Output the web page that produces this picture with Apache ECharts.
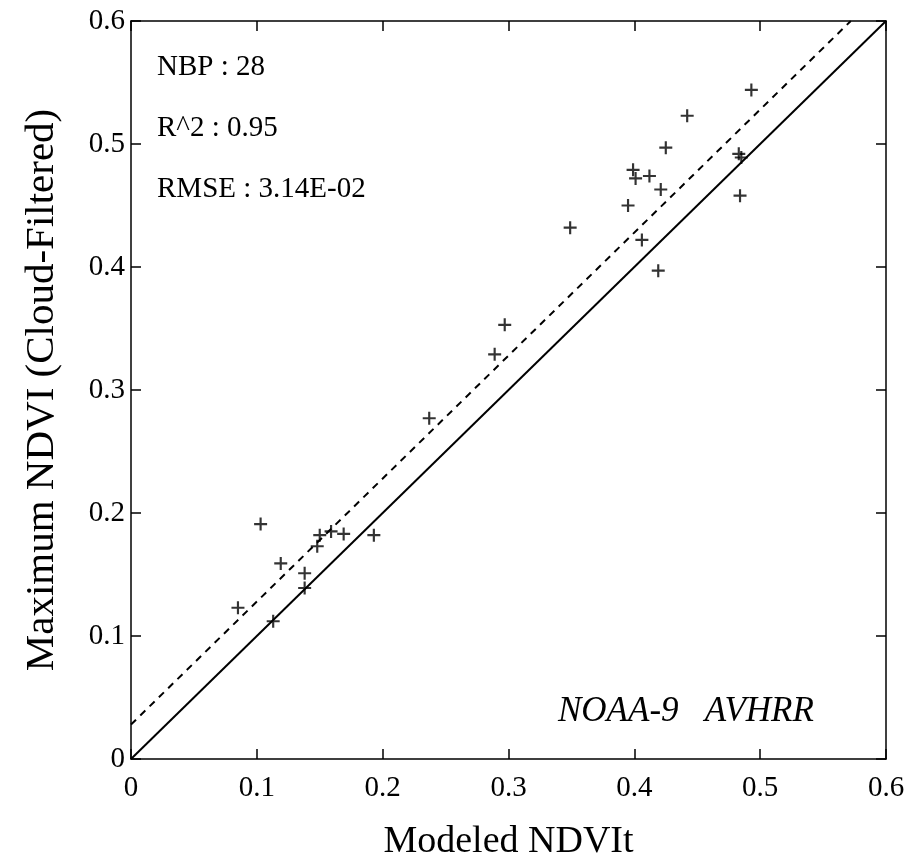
<!DOCTYPE html>
<html>
<head>
<meta charset="utf-8">
<script src="https://cdn.jsdelivr.net/npm/echarts@6/dist/echarts.min.js"></script>
<style>
  html, body { margin: 0; padding: 0; background: #fff; }
  #chart { width: 911px; height: 859px; }
</style>
</head>
<body>
<div id="chart"></div>
<script>
// modeled NDVIt (x) vs maximum cloud-filtered NDVI (y)
const modeled = [
  0.493, 0.442, 0.425, 0.399, 0.401, 0.412, 0.421, 0.395, 0.483, 0.485,
  0.484, 0.406, 0.419, 0.349, 0.297, 0.289, 0.237, 0.103, 0.150, 0.159,
  0.169, 0.193, 0.148, 0.119, 0.138, 0.138, 0.085, 0.113
];
const maxNdvi = [
  0.544, 0.523, 0.497, 0.479, 0.472, 0.474, 0.463, 0.450, 0.492, 0.489,
  0.458, 0.422, 0.397, 0.432, 0.353, 0.329, 0.277, 0.191, 0.182, 0.185,
  0.183, 0.182, 0.173, 0.159, 0.151, 0.139, 0.123, 0.112
];
const tickLabels = ['0', '0.1', '0.2', '0.3', '0.4', '0.5', '0.6'];
const fitIntercept = 0.028;
const fitSlope = 1.0;
const axisMax = 0.6;

const points = modeled.map((x, i) => [x, maxNdvi[i]]);
const fitLine = [[0, fitIntercept], [(axisMax - fitIntercept) / fitSlope, axisMax]];
const oneToOne = [[0, 0], [axisMax, axisMax]];

const chart = echarts.init(document.getElementById('chart'));
const font = 'Liberation Serif';

const baseAxis = {
  type: 'value',
  min: 0,
  max: axisMax,
  interval: 0.1,
  splitLine: { show: false },
  axisLine: { onZero: false, lineStyle: { color: '#000', width: 1.5 } },
  axisTick: { inside: true, length: 10, lineStyle: { color: '#000', width: 1.5 } }
};

const option = {
  animation: false,
  grid: { left: 131, right: 25, top: 21, bottom: 100, outerBoundsMode: 'none', containLabel: false },
  xAxis: [
    Object.assign({}, baseAxis, {
      position: 'bottom',
      name: 'Modeled NDVIt',
      nameLocation: 'middle',
      nameGap: 64,
      nameTextStyle: { fontFamily: font, fontSize: 38, color: '#000' },
      axisLabel: {
        margin: 15, fontFamily: font, fontSize: 29, color: '#000',
        formatter: v => tickLabels[Math.round(v * 10)]
      }
    }),
    Object.assign({}, baseAxis, { position: 'top', axisLabel: { show: false } })
  ],
  yAxis: [
    Object.assign({}, baseAxis, {
      position: 'left',
      name: 'Maximum NDVI (Cloud-Filtered)',
      nameLocation: 'middle',
      nameGap: 68,
      nameRotate: 90,
      nameTextStyle: { fontFamily: font, fontSize: 41, color: '#000' },
      axisLabel: {
        margin: 6, fontFamily: font, fontSize: 29, color: '#000',
        formatter: v => tickLabels[Math.round(v * 10)]
      }
    }),
    Object.assign({}, baseAxis, { position: 'right', axisLabel: { show: false } })
  ],
  series: [
    {
      type: 'line',
      data: oneToOne,
      symbol: 'none',
      lineStyle: { color: '#000', width: 2 },
      silent: true
    },
    {
      type: 'line',
      data: fitLine,
      symbol: 'none',
      lineStyle: { color: '#000', width: 2, type: [7, 6] },
      silent: true
    },
    {
      type: 'scatter',
      data: points,
      symbol: 'path://M5,0H7V5H12V7H7V12H5V7H0V5H5Z',
      symbolSize: 13,
      itemStyle: { color: '#000' }
    }
  ],
  graphic: [
    { type: 'text', left: 157, top: 53, style: { text: 'NBP : 28', font: '29px "Liberation Serif"', fill: '#000' } },
    { type: 'text', left: 157, top: 114, style: { text: 'R^2 : 0.95', font: '29px "Liberation Serif"', fill: '#000' } },
    { type: 'text', left: 157, top: 175, style: { text: 'RMSE : 3.14E-02', font: '29px "Liberation Serif"', fill: '#000' } },
    { type: 'text', left: 558, top: 694, style: { text: 'NOAA-9   AVHRR', font: 'italic 35px "Liberation Serif"', fill: '#000' } }
  ]
};

chart.setOption(option);
</script>
</body>
</html>
